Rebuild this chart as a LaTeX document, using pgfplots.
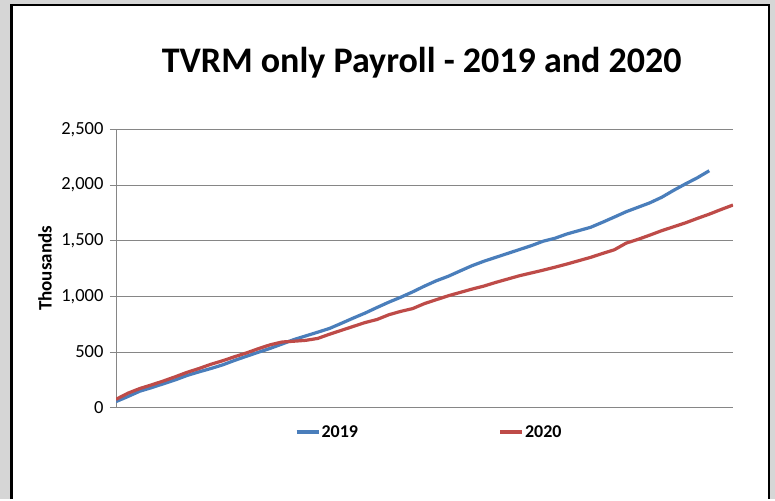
\documentclass[border=0pt]{standalone}
\usepackage{fontspec}
\setmainfont{Carlito}
\usepackage{pgfplots}
\pgfplotsset{compat=1.18}
\definecolor{line19}{HTML}{4A7EBB}
\definecolor{line20}{HTML}{BE4B48}
\definecolor{gridgray}{HTML}{868686}
\definecolor{outergray}{HTML}{D6D6D6}

\begin{document}
\begin{tikzpicture}[x=1pt,y=1pt]
% screenshot frame
\fill[outergray] (0,0) rectangle (775,499);
\fill[white] (12,0) rectangle (769,494);
\draw[black, line width=3pt] (11,0) -- (11,494.5);
\draw[black, line width=2pt] (11,494) -- (769,494) -- (769,0);

\begin{axis}[
    at={(116pt,91.3pt)}, anchor=south west,
    scale only axis, width=617pt, height=278.4pt,
    xmin=0, xmax=52, ymin=0, ymax=2500,
    xtick=\empty,
    ytick={0,500,1000,1500,2000,2500},
    yticklabels={0,500,{1,000},{1,500},{2,000},{2,500}},
    yticklabel style={font=\fontsize{18.5}{18.5}\selectfont, text=black, xshift=-3pt},
    axis lines=left, axis line style={-, draw=gridgray, line width=0.9pt},
    ymajorgrids, grid style={gridgray, line width=0.9pt},
    tick align=outside, major tick length=6pt,
    ytick style={gridgray, line width=0.9pt},
    title={TVRM only Payroll - 2019 and 2020},
    title style={font=\bfseries\fontsize{36}{36}\selectfont, at={(0.4955,1.184)}, anchor=base},
    ylabel={Thousands},
    ylabel style={font=\bfseries\fontsize{19}{19}\selectfont, at={(-0.115,0.5)}, anchor=center},
    legend columns=2,
    legend style={at={(0.5065,-0.087)}, anchor=center, draw=none, fill=none,
        font=\bfseries\fontsize{18}{18}\selectfont,
        /tikz/every even column/.append style={column sep=139pt},
        nodes={inner sep=1pt}},
    legend image code/.code={\draw[line width=4pt] (0pt,0pt) -- (22pt,0pt);},
]
\addplot[line19, line width=3.2pt, line join=round] coordinates {
(0,55) (1,100) (2,148) (3,180) (4,215) (5,250) (6,290) (7,322) (8,352) (9,385)
(10,425) (11,462) (12,498) (13,533) (14,572) (15,612) (16,645) (17,678) (18,712) (19,758)
(20,805) (21,850) (22,900) (23,948) (24,992) (25,1040) (26,1092) (27,1140) (28,1180) (29,1228)
(30,1275) (31,1315) (32,1350) (33,1385) (34,1420) (35,1455) (36,1495) (37,1522) (38,1560) (39,1590)
(40,1620) (41,1665) (42,1712) (43,1760) (44,1800) (45,1840) (46,1890) (47,1952) (48,2010) (49,2065)
(50,2128)
};
\addlegendentry{2019}
\addplot[line20, line width=3.2pt, line join=round] coordinates {
(0,75) (1,130) (2,172) (3,205) (4,240) (5,278) (6,318) (7,352) (8,390) (9,422)
(10,458) (11,492) (12,530) (13,565) (14,590) (15,597) (16,605) (17,622) (18,660) (19,695)
(20,730) (21,765) (22,792) (23,835) (24,865) (25,890) (26,935) (27,970) (28,1005) (29,1035)
(30,1065) (31,1092) (32,1125) (33,1155) (34,1185) (35,1210) (36,1235) (37,1262) (38,1290) (39,1320)
(40,1350) (41,1385) (42,1418) (43,1478) (44,1512) (45,1550) (46,1590) (47,1625) (48,1660) (49,1700)
(50,1738) (51,1780) (52,1820)
};
\addlegendentry{2020}
\end{axis}
\end{tikzpicture}
\end{document}
